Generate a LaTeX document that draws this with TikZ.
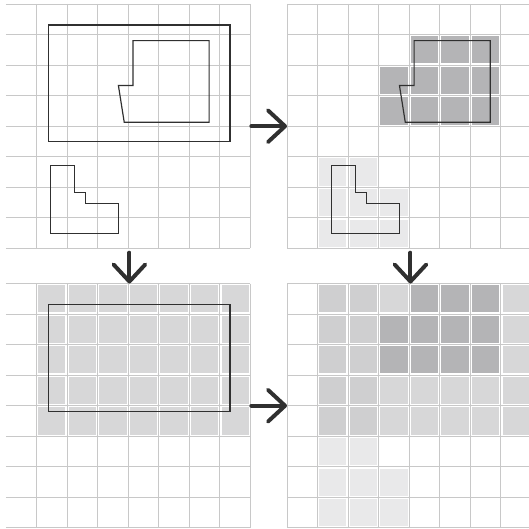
\documentclass[tikz,border=0pt]{standalone}
\usepackage{xcolor}
\usepackage{tikz}
\usetikzlibrary{arrows.meta}
\definecolor{gridgray}{RGB}{200,200,200}
\definecolor{inkgray}{RGB}{48,48,48}
\definecolor{darkcell}{RGB}{180,180,182}
\definecolor{midcell}{RGB}{207,207,208}
\definecolor{palecell}{RGB}{215,215,216}
\definecolor{lightcell}{RGB}{233,233,234}
\tikzset{
  gridline/.style={draw=gridgray,line width=0.9pt},
  outline/.style={draw=inkgray,line width=1.1pt},
  bigarrow/.style={-{Straight Barb[length=5.6mm,width=10.4mm,round]},draw=inkgray,line width=3.7pt,line cap=round},
}
% one shaded square, inset from the grid lines
\newcommand{\cellbox}[3]{\fill[#1] (#2+0.055,-#3-0.055) rectangle (#2+0.945,-#3-0.945);}
% 8x8 grid, #1 = first vertical line
\newcommand{\cellgrid}[1]{%
  \foreach \r in {0,...,8} {\draw[gridline] (0,-\r) -- (8,-\r);}
  \foreach \c in {#1,...,8} {\draw[gridline] (\c,0) -- (\c,-8);}
}
\begin{document}
\begin{tikzpicture}
  \useasboundingbox (-0.196,0.131) rectangle (17.12,-17.18);
  \fill[white] (-0.196,0.131) rectangle (17.12,-17.18);

  % top left: input shapes
  \begin{scope}
    \cellgrid{1}
    \draw[outline] (1.4,-0.69) rectangle (7.33,-4.49);
    \draw[outline] (4.16,-1.2) -- (6.65,-1.2) -- (6.65,-3.87) -- (3.87,-3.87) -- (3.68,-2.67) -- (4.16,-2.67) -- cycle;
    \draw[outline] (1.46,-5.29) -- (2.24,-5.29) -- (2.24,-6.17) -- (2.6,-6.17) -- (2.6,-6.54) -- (3.69,-6.54) -- (3.69,-7.5) -- (1.46,-7.5) -- cycle;
  \end{scope}

  % top right: cells under the small shapes
  \begin{scope}[shift={(9.2,0)}]
    \foreach \c in {4,5,6} {\cellbox{darkcell}{\c}{1}}
    \foreach \r in {2,3} {\foreach \c in {3,...,6} {\cellbox{darkcell}{\c}{\r}}}
    \foreach \c in {1,2} {\cellbox{lightcell}{\c}{5}}
    \foreach \r in {6,7} {\foreach \c in {1,2,3} {\cellbox{lightcell}{\c}{\r}}}
    \cellgrid{0}
    \draw[outline] (4.16,-1.2) -- (6.65,-1.2) -- (6.65,-3.87) -- (3.87,-3.87) -- (3.68,-2.67) -- (4.16,-2.67) -- cycle;
    \draw[outline] (1.46,-5.29) -- (2.24,-5.29) -- (2.24,-6.17) -- (2.6,-6.17) -- (2.6,-6.54) -- (3.69,-6.54) -- (3.69,-7.5) -- (1.46,-7.5) -- cycle;
  \end{scope}

  % bottom left: cells under the frame
  \begin{scope}[shift={(0,-9.15)}]
    \foreach \r in {0,...,4} {\foreach \c in {1,...,7} {\cellbox{palecell}{\c}{\r}}}
    \cellgrid{1}
    \draw[outline] (1.4,-0.69) rectangle (7.33,-4.2);
  \end{scope}

  % bottom right: merged result
  \begin{scope}[shift={(9.2,-9.15)}]
    \foreach \r in {0,...,4} {\foreach \c in {1,2} {\cellbox{midcell}{\c}{\r}}}
    \foreach \r in {0,...,4} {\foreach \c in {3,...,7} {\cellbox{palecell}{\c}{\r}}}
    \foreach \c in {4,5,6} {\cellbox{darkcell}{\c}{0}}
    \foreach \r in {1,2} {\foreach \c in {3,...,6} {\cellbox{darkcell}{\c}{\r}}}
    \foreach \c in {1,2} {\cellbox{lightcell}{\c}{5}}
    \foreach \r in {6,7} {\foreach \c in {1,2,3} {\cellbox{lightcell}{\c}{\r}}}
    \cellgrid{0}
  \end{scope}

  \coordinate (tlR) at (8.03,-4);
  \coordinate (trL) at (9.2,-4);
  \coordinate (tlB) at (4.04,-8.14);
  \coordinate (blT) at (4.04,-9.15);
  \coordinate (trB) at (13.24,-8.14);
  \coordinate (brT) at (13.24,-9.15);
  \coordinate (blR) at (8.03,-13.15);
  \coordinate (brL) at (9.2,-13.15);

  \draw[bigarrow] (tlR) -- (trL);
  \draw[bigarrow] (tlB) -- (blT);
  \draw[bigarrow] (trB) -- (brT);
  \draw[bigarrow] (blR) -- (brL);
\end{tikzpicture}
\end{document}
